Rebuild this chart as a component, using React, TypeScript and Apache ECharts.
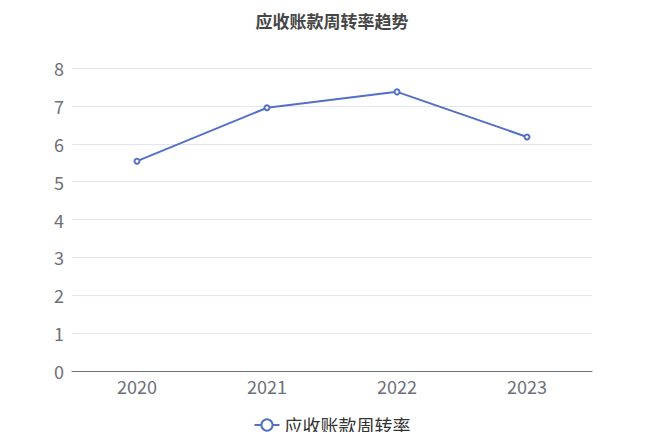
import React, { useEffect, useRef } from "react";
import * as echarts from "echarts";

const categories = ["2020", "2021", "2022", "2023"];
const turnover = [5.54, 6.95, 7.37, 6.18];
const seriesName = "应收账款周转率";
const titleText = "应收账款周转率趋势";

export default function App() {
  const ref = useRef<HTMLDivElement>(null);
  useEffect(() => {
    if (!ref.current) return;
    const chart = echarts.init(ref.current, undefined, { renderer: "svg" });
    chart.setOption({
      animation: false,
      textStyle: { fontFamily: "'Noto Sans CJK SC', sans-serif" },
      title: {
        text: titleText,
        left: "center",
        top: -1,
        textStyle: { fontSize: 17, fontWeight: "bold", color: "#464646" },
      },
      legend: {
        data: [seriesName],
        bottom: 1,
        left: "center",
        itemWidth: 25,
        itemHeight: 14,
        textStyle: { fontSize: 18, color: "#333" },
      },
      grid: { left: 64, right: 64, top: 60, bottom: 69 },
      xAxis: {
        type: "category",
        data: categories,
        axisTick: { show: false },
        axisLine: { lineStyle: { color: "#6e7079" } },
        axisLabel: { fontSize: 18, color: "#6e7079", margin: 6 },
      },
      yAxis: {
        type: "value",
        min: 0,
        max: 8,
        interval: 1,
        axisLabel: { fontSize: 18, color: "#6e7079", margin: 8 },
        splitLine: { lineStyle: { color: "#e0e6f1" } },
      },
      series: [
        {
          name: seriesName,
          type: "line",
          data: turnover,
          symbol: "emptyCircle",
          symbolSize: 5,
          lineStyle: { width: 2, color: "#5470c6" },
          itemStyle: { color: "#5470c6" },
        },
      ],
    });
    return () => chart.dispose();
  }, []);
  return <div ref={ref} style={{ width: 648, height: 432 }} />;
}
